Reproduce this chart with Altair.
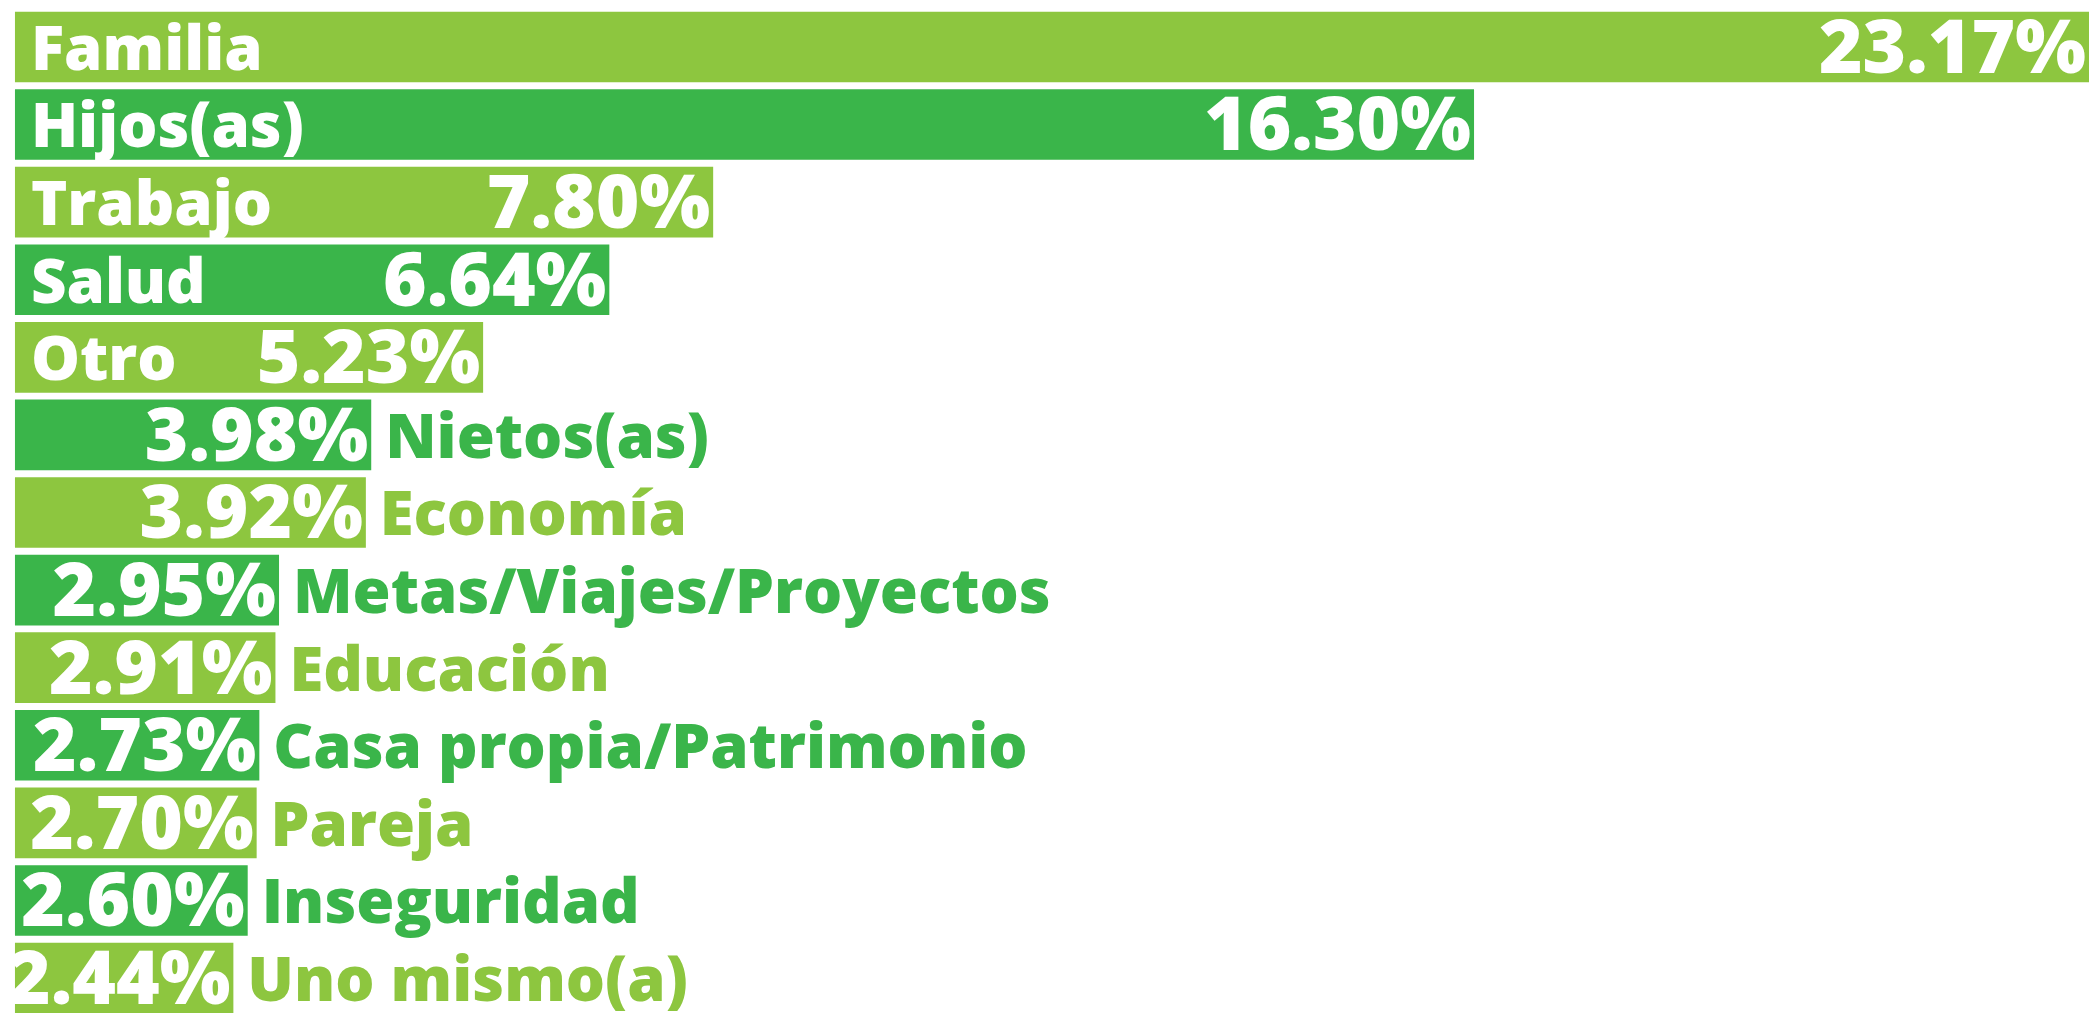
import altair as alt
import pandas as pd

categories = ["Familia", "Hijos(as)", "Trabajo", "Salud", "Otro", "Nietos(as)", "Economía",
              "Metas/Viajes/Proyectos", "Educación", "Casa propia/Patrimonio", "Pareja",
              "Inseguridad", "Uno mismo(a)"]
values = [23.17, 16.30, 7.80, 6.64, 5.23, 3.98, 3.92, 2.95, 2.91, 2.73, 2.70, 2.60, 2.44]
labels = ["23.17%", "16.30%", "7.80%", "6.64%", "5.23%", "3.98%", "3.92%",
          "2.95%", "2.91%", "2.73%", "2.70%", "2.60%", "2.44%"]
LIGHT = "#8DC63F"
DARK = "#3AB54A"
colors = [LIGHT if i % 2 == 0 else DARK for i in range(len(categories))]
inside = [1] * 5 + [0] * 8

df = pd.DataFrame({"cat": categories, "value": values, "label": labels,
                   "color": colors, "inside": inside, "start": [0.0] * len(categories)})

FONT = "Open Sans"
xscale = alt.Scale(domain=[0, 23.17], nice=False, zero=True)
yscale = alt.Scale(paddingInner=7 / 78, paddingOuter=0)
X = alt.X("value:Q", scale=xscale, axis=None)
Y = alt.Y("cat:N", sort=categories, scale=yscale, axis=None)

base = alt.Chart(df)

bars = base.mark_bar().encode(
    x=X, y=Y, color=alt.Color("color:N", scale=None)
)

val_text = base.mark_text(
    align="right", baseline="middle", dx=-3, dy=3, font=FONT, fontSize=75,
    fontWeight=800, color="white"
).encode(x=X, y=Y, text="label:N")

in_text = base.transform_filter("datum.inside == 1").mark_text(
    align="left", baseline="middle", dx=16, dy=4, font=FONT, fontSize=62,
    fontWeight=800, color="white"
).encode(x=alt.X("start:Q", scale=xscale, axis=None), y=Y, text="cat:N")

out_text = base.transform_filter("datum.inside == 0").mark_text(
    align="left", baseline="middle", dx=14, dy=4, font=FONT, fontSize=62,
    fontWeight=800
).encode(x=X, y=Y, text="cat:N", color=alt.Color("color:N", scale=None))

chart = alt.layer(bars, val_text, in_text, out_text).properties(
    width=2085, height=1007,
    background="white",
    padding={"left": 7, "top": 1, "right": 0, "bottom": 0},
    autosize=alt.AutoSizeParams(type="none"),
).configure_view(stroke=None)

chart.save("out.html", embed_options={"renderer": "svg", "actions": False})
